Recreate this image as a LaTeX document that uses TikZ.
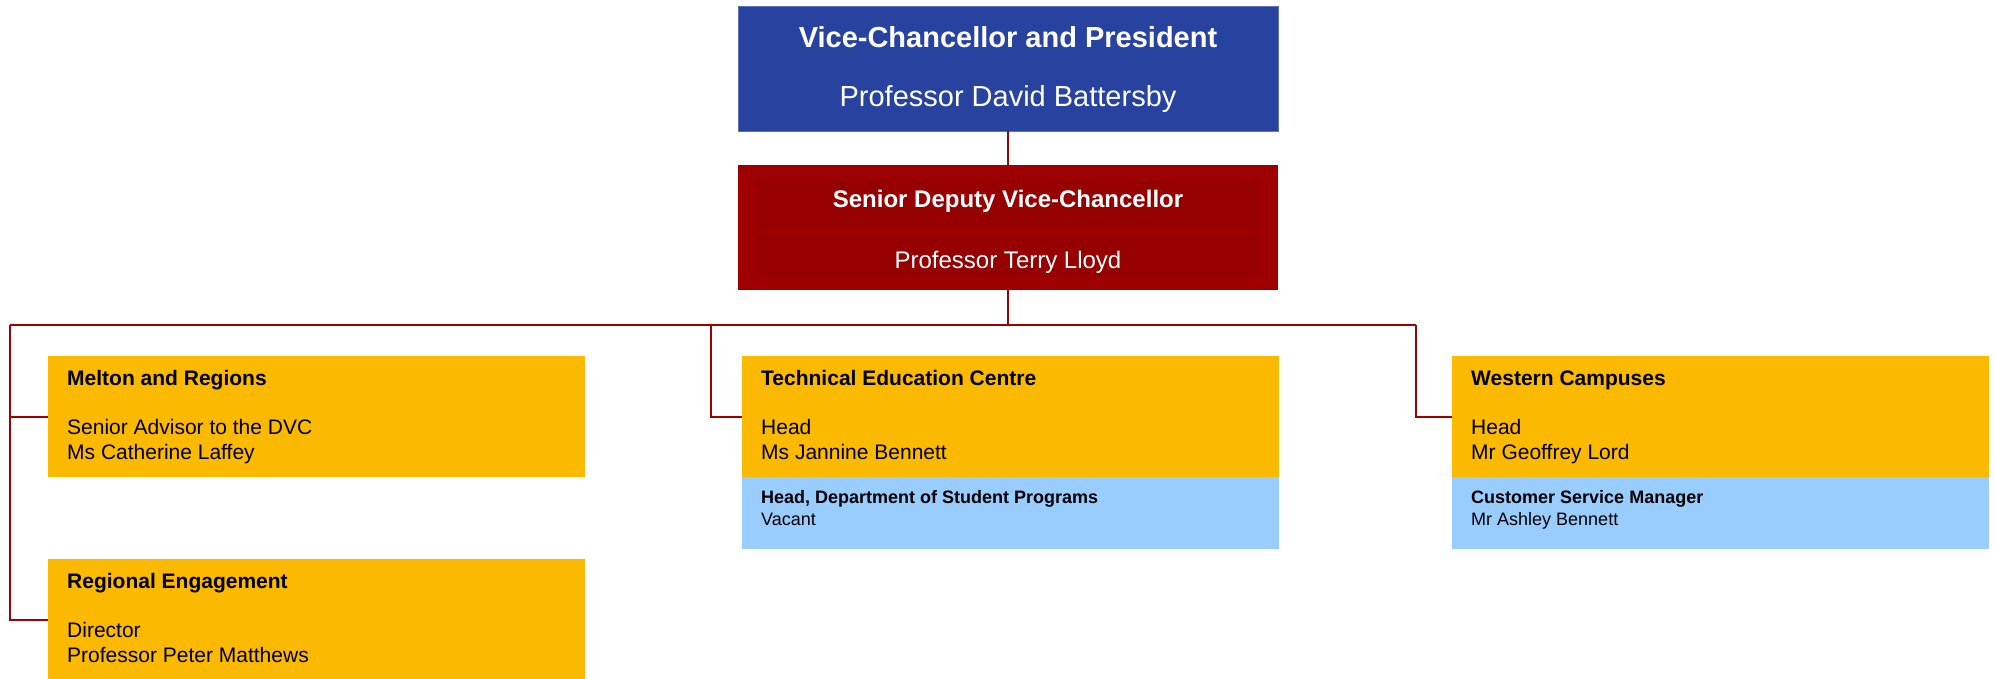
\documentclass[tikz,border=0pt]{standalone}
\usepackage{fontspec}
\setmainfont{Liberation Sans}
\usepackage{xcolor}
\usepackage{tikz}
\usetikzlibrary{positioning,calc}

\definecolor{vcblue}{HTML}{27429F}
\definecolor{sdvcred}{HTML}{9E0000}
\definecolor{sdvcinner}{HTML}{960000}
\definecolor{unitgold}{HTML}{FBB900}
\definecolor{subblue}{HTML}{99CCFF}
\definecolor{linkred}{HTML}{A00000}

\begin{document}
\begin{tikzpicture}[x=1pt, y=-1pt,
    topbox/.style={rectangle, anchor=north west, inner sep=0pt, outer sep=0pt, minimum width=540pt, minimum height=125pt},
    unit/.style={rectangle, anchor=north west, fill=unitgold, inner sep=0pt, outer sep=0pt, minimum width=537pt, minimum height=121pt},
    subunit/.style={rectangle, anchor=north west, fill=subblue, inner sep=0pt, outer sep=0pt, minimum width=537pt, minimum height=72pt},
    bigtitle/.style={anchor=base, inner sep=0pt, text=white, font=\bfseries\fontsize{29}{34}\selectfont},
    bigname/.style={anchor=base, inner sep=0pt, text=white, font=\fontsize{29}{34}\selectfont},
    midtitle/.style={anchor=base, inner sep=0pt, text=white, font=\bfseries\fontsize{24}{28}\selectfont},
    midname/.style={anchor=base, inner sep=0pt, text=white, font=\fontsize{24}{28}\selectfont},
    unithead/.style={anchor=base west, inner sep=0pt, font=\bfseries\fontsize{21}{25}\selectfont},
    unittext/.style={anchor=base west, inner sep=0pt, font=\fontsize{21}{25}\selectfont},
    subhead/.style={anchor=base west, inner sep=0pt, font=\bfseries\fontsize{18}{22}\selectfont},
    subtext/.style={anchor=base west, inner sep=0pt, font=\fontsize{18}{22}\selectfont},
    link/.style={draw=linkred, line width=2pt}]
    \useasboundingbox (0,0) rectangle (1995,678);

    % top of the chart
    \node[topbox, fill=vcblue, draw=vcblue!75!white, line width=1pt] (vc) at (738,6) {};
    \node[bigtitle] (vcTitle) at ([shift={(0,41)}]vc.north) {Vice-Chancellor and President};
    \node[bigname] (vcName) at ([shift={(0,100)}]vc.north) {Professor David Battersby};

    \node[topbox, fill=sdvcred] (sdvc) at (738,165) {};
    \fill[sdvcinner] ([shift={(19,15)}]sdvc.north west) rectangle ([shift={(-18,-60)}]sdvc.south east);
    \fill[sdvcinner] ([shift={(19,68)}]sdvc.north west) rectangle ([shift={(-18,-13)}]sdvc.south east);
    \node[midtitle] (sdvcTitle) at ([shift={(0,42)}]sdvc.north) {Senior Deputy Vice-Chancellor};
    \node[midname] (sdvcName) at ([shift={(0,103)}]sdvc.north) {Professor Terry Lloyd};

    % units
    \node[unit] (mel) at (48,356) {};
    \node[unithead] (melHead) at ([shift={(19,29)}]mel.north west) {Melton and Regions};
    \node[unittext] (melRole) at ([shift={(19,78)}]mel.north west) {Senior Advisor to the DVC};
    \node[unittext] (melName) at ([shift={(19,103)}]mel.north west) {Ms Catherine Laffey};

    \node[unit] (reg) at (48,559) {};
    \node[unithead] (regHead) at ([shift={(19,29)}]reg.north west) {Regional Engagement};
    \node[unittext] (regRole) at ([shift={(19,78)}]reg.north west) {Director};
    \node[unittext] (regName) at ([shift={(19,103)}]reg.north west) {Professor Peter Matthews};

    \node[unit] (tec) at (742,356) {};
    \node[unithead] (tecHead) at ([shift={(19,29)}]tec.north west) {Technical Education Centre};
    \node[unittext] (tecRole) at ([shift={(19,78)}]tec.north west) {Head};
    \node[unittext] (tecName) at ([shift={(19,103)}]tec.north west) {Ms Jannine Bennett};
    \node[subunit] (tecSub) at (tec.south west) {};
    \node[subhead] (tecSubRole) at ([shift={(19,26)}]tecSub.north west) {Head, Department of Student Programs};
    \node[subtext] (tecSubName) at ([shift={(19,48)}]tecSub.north west) {Vacant};

    \node[unit] (wc) at (1452,356) {};
    \node[unithead] (wcHead) at ([shift={(19,29)}]wc.north west) {Western Campuses};
    \node[unittext] (wcRole) at ([shift={(19,78)}]wc.north west) {Head};
    \node[unittext] (wcName) at ([shift={(19,103)}]wc.north west) {Mr Geoffrey Lord};
    \node[subunit] (wcSub) at (wc.south west) {};
    \node[subhead] (wcSubRole) at ([shift={(19,26)}]wcSub.north west) {Customer Service Manager};
    \node[subtext] (wcSubName) at ([shift={(19,48)}]wcSub.north west) {Mr Ashley Bennett};

    % connectors
    \coordinate (busL) at (10,325);
    \coordinate (busM) at (711,325);
    \coordinate (busR) at (1416,325);

    \draw[link] (vc.south) -- (sdvc.north);
    \draw[link] (sdvc.south) -- (sdvc.south |- busL);
    \draw[link] (busL) -- (busR);
    \draw[link] (busL) |- (mel.west);
    \draw[link] (busL) |- (reg.west);
    \draw[link] (busM) |- (tec.west);
    \draw[link] (busR) |- (wc.west);
\end{tikzpicture}
\end{document}
